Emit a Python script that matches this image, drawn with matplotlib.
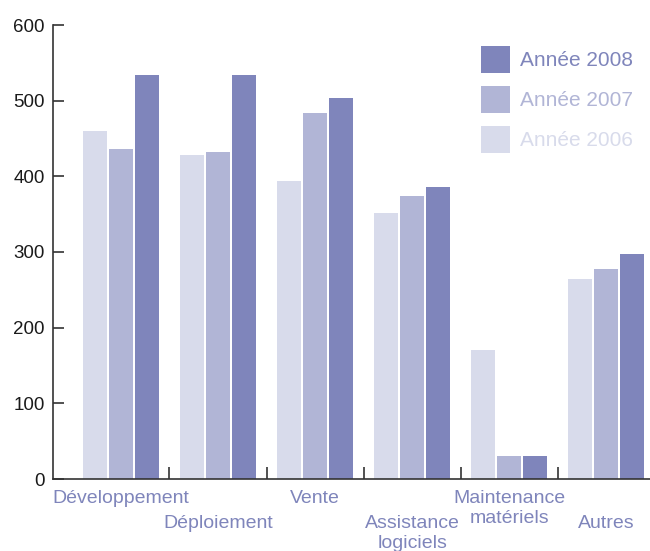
import matplotlib
matplotlib.use("Agg")
import matplotlib.pyplot as plt
import numpy as np
from matplotlib.transforms import blended_transform_factory

categories = ["Développement", "Déploiement", "Vente", "Assistance\nlogiciels",
              "Maintenance\nmatériels", "Autres"]
label_row = [0, 1, 0, 1, 0, 1]  # staggered label rows
years = ["Année 2006", "Année 2007", "Année 2008"]
v2006 = [460, 428, 394, 351, 170, 264]
v2007 = [436, 432, 484, 374, 30, 277]
v2008 = [534, 534, 503, 386, 30, 297]
series = [v2006, v2007, v2008]
colors = ["#d8dbeb", "#b1b5d6", "#7f85bb"]
yticks = [0, 100, 200, 300, 400, 500, 600]

plt.rcParams['font.family'] = ['Liberation Sans', 'DejaVu Sans']

W, H = 650, 551
fig = plt.figure(figsize=(W / 100, H / 100), dpi=100)
left_px, right_px, bottom_px, top_px = 53, 650, 479, 25
ax = fig.add_axes([left_px / W, (H - bottom_px) / H, (right_px - left_px) / W,
                   (bottom_px - top_px) / H])

x = np.arange(len(categories))
bw = 0.247
step = 0.268
handles = []
for i, (vals, c) in enumerate(zip(series, colors)):
    h = ax.bar(x + (i - 1) * step, vals, width=bw, color=c, linewidth=0, label=years[i])
    handles.append(h)

ax.set_xlim(-0.70, 5.45)
ax.set_ylim(0, 600)
for s in ["top", "right"]:
    ax.spines[s].set_visible(False)
for s in ["left", "bottom"]:
    ax.spines[s].set_color("#333333")
    ax.spines[s].set_linewidth(1.2)

ax.set_yticks(yticks)
ax.tick_params(axis="y", direction="in", length=8, width=1.2, color="#333333",
               labelsize=13.5, pad=6, labelcolor="#1a1a1a")
ax.set_xticks(x[:-1] + 0.5)
ax.set_xticklabels([])
ax.tick_params(axis="x", direction="in", length=9, width=1.2, color="#333333")

trans = blended_transform_factory(ax.transData, ax.transAxes)
for xi, lab, r in zip(x, categories, label_row):
    yoff = -11 - r * 25
    ax.annotate(lab, xy=(xi, 0), xycoords=trans, xytext=(0, yoff * 0.72),
                textcoords="offset points", ha="center", va="top",
                fontsize=14, color="#7f85bb", linespacing=1.22,
                annotation_clip=False)

leg = ax.legend(handles[::-1], years[::-1], loc="upper left",
                bbox_to_anchor=(481 / W, 1 - 46 / H), bbox_transform=fig.transFigure,
                frameon=False, fontsize=15, handlelength=1.4, handleheight=1.62,
                handletextpad=0.45, labelspacing=0.62, borderpad=0, borderaxespad=0,
                labelcolor=colors[::-1])

fig.savefig("out.png", dpi=100)
